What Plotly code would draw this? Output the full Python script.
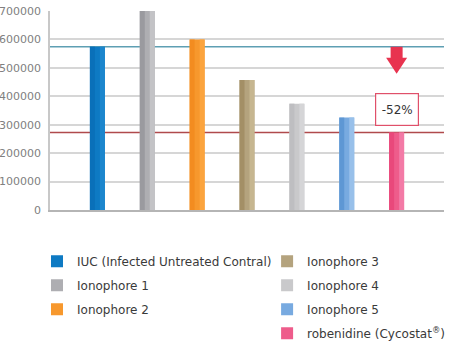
import plotly.graph_objects as go

categories = ["IUC (Infected Untreated Contral)", "Ionophore 1", "Ionophore 2",
              "Ionophore 3", "Ionophore 4", "Ionophore 5", "robenidine (Cycostat<sup>®</sup>)"]
values = [574000, 700000, 600000, 457000, 374000, 325000, 273000]
colors_dark = ["#0A70B9", "#9A9A9F", "#F38C20", "#A38F66", "#BEBEC1", "#5E97D4", "#E9487B"]
colors_mid = ["#0E7AC3", "#AEAEB2", "#F7982D", "#B4A37E", "#C9C9CB", "#78AAE0", "#EE5C8B"]
colors_light = ["#1C86CD", "#C3C3C6", "#FBA43E", "#C6B690", "#D5D5D7", "#98C0EA", "#F37AA6"]
legend_ids = ["legend", "legend", "legend", "legend2", "legend2", "legend2", "legend2"]
y_ticks = [0, 100000, 200000, 300000, 400000, 500000, 600000, 700000]

FONT = "DejaVu Sans"
W = 0.3
fig = go.Figure()
for i, (c, v, col, lg) in enumerate(zip(categories, values, colors_mid, legend_ids)):
    fig.add_trace(go.Bar(
        x=[i], y=[v], name=c, marker=dict(color=col, line=dict(width=0)),
        width=W, offset=-W / 2, legend=lg, legendgroup=c, hoverinfo="skip",
    ))
# gradient bands (same values, darker left, lighter right)
for band_cols, off in [(colors_dark, -W / 2), (colors_light, W / 6)]:
    for i, (c, v, col) in enumerate(zip(categories, values, band_cols)):
        fig.add_trace(go.Bar(
            x=[i], y=[v], marker=dict(color=col, line=dict(width=0)), width=W / 3,
            offset=off, showlegend=False, hoverinfo="skip",
        ))

# reference lines
for v, col in [(values[0], "#5E9FB3"), (values[-1], "#B04A4C")]:
    fig.add_shape(type="line", xref="paper", x0=0, x1=1, yref="y", y0=v, y1=v,
                  line=dict(color=col, width=1.5), layer="below")

# arrow
fig.add_shape(type="path", xref="x", yref="y", xsizemode="pixel", ysizemode="pixel",
              xanchor=len(values) - 1, yanchor=values[0],
              path="M -6,0 L 6,0 L 6,-11 L 10.5,-11 L 0,-27 L -10.5,-11 L -6,-11 Z",
              fillcolor="#E8334F", line=dict(width=0))

pct = round((values[-1] - values[0]) / values[0] * 100)
fig.add_annotation(x=len(values) - 1, y=values[-1], text=f"{pct}%", showarrow=False,
                   yshift=23, width=40, height=29, bgcolor="white",
                   bordercolor="#E0506A", borderwidth=1.2,
                   font=dict(family=FONT, size=12, color="#333333"))

legend_common = dict(y=-0.185, xanchor="left", yanchor="top", traceorder="grouped",
                     tracegroupgap=5, font=dict(family=FONT, size=12, color="#3A3A3A"),
                     bgcolor="rgba(0,0,0,0)")
fig.update_layout(
    width=453, height=354, margin=dict(l=50, r=9, t=11, b=144, autoexpand=False),
    plot_bgcolor="white", paper_bgcolor="white", barmode="overlay",
    font=dict(family=FONT, size=11, color="#333333"),
    xaxis=dict(range=[-0.95, 6.95], showticklabels=False, showgrid=False, zeroline=False,
               showline=True, linecolor="#B5B5B5", linewidth=1.5, fixedrange=True,
               automargin=False),
    yaxis=dict(range=[0, 700000], tickvals=y_ticks, tickformat="d", showgrid=True,
               gridcolor="#D6D6D6", gridwidth=1.5, zeroline=False, showline=True,
               linecolor="#C8C8C8", linewidth=1.5, automargin=False,
               tickfont=dict(family=FONT, size=11, color="#808080"), ticklabelstandoff=5),
    legend=dict(x=-0.033, **legend_common),
    legend2=dict(x=0.551, **legend_common),
)
fig.write_html("out.html")
